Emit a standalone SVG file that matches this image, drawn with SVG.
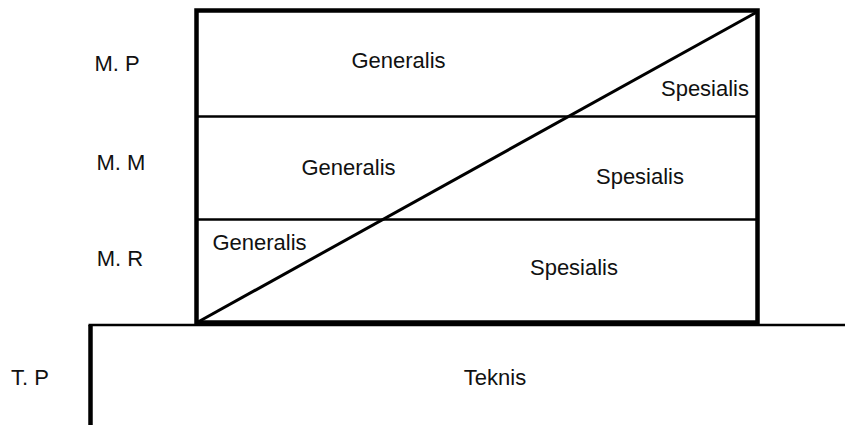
<svg xmlns="http://www.w3.org/2000/svg" width="845" height="425" viewBox="0 0 845 425">
  <style>
    .lbl { font-family: "Liberation Sans", Arial, sans-serif; font-size: 22px; fill: #111; text-anchor: middle; }
    .frame { fill: none; stroke: #000; stroke-width: 4.5; }
    .divider { fill: none; stroke: #000; stroke-width: 2.5; }
    .diag { fill: none; stroke: #000; stroke-width: 3; }
  </style>
  <rect width="845" height="425" fill="#fff"/>

  <!-- level labels on the left -->
  <g id="labels">
    <text class="lbl" x="117" y="71">M. P</text>
    <text class="lbl" x="121" y="170">M. M</text>
    <text class="lbl" x="120" y="266">M. R</text>
    <text class="lbl" x="30" y="385">T. P</text>
  </g>

  <!-- base block: technical level -->
  <g id="teknis">
    <path d="M90.5,425 V325" fill="none" stroke="#000" stroke-width="4.5"/>
    <path d="M88.5,325 H845" fill="none" stroke="#000" stroke-width="2.5"/>
    <text class="lbl" x="495" y="385">Teknis</text>
  </g>

  <!-- management block, split into three levels -->
  <g id="manajemen">
    <rect class="frame" x="196.5" y="10.5" width="561" height="312"/>
  </g>

  <g id="connectors">
    <line class="divider" x1="196" y1="116.5" x2="758" y2="116.5"/>
    <line class="divider" x1="196" y1="219.5" x2="758" y2="219.5"/>
    <line class="diag" x1="198" y1="322" x2="757" y2="12"/>
  </g>

  <g id="mp">
    <text class="lbl" x="398.5" y="68">Generalis</text>
    <text class="lbl" x="705" y="96">Spesialis</text>
  </g>
  <g id="mm">
    <text class="lbl" x="348.5" y="175">Generalis</text>
    <text class="lbl" x="640" y="184">Spesialis</text>
  </g>
  <g id="mr">
    <text class="lbl" x="259.5" y="250">Generalis</text>
    <text class="lbl" x="574" y="275">Spesialis</text>
  </g>
</svg>
